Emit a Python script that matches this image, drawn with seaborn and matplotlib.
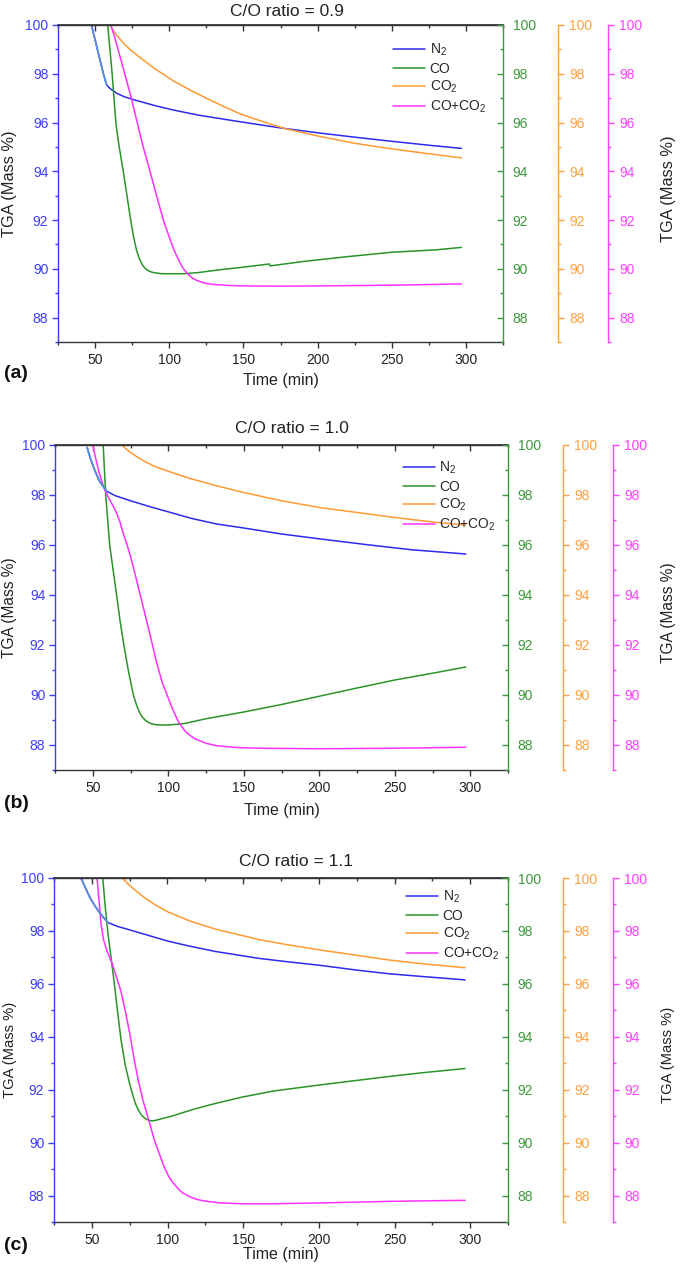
import pandas as pd
import matplotlib
matplotlib.use("Agg")
import matplotlib.pyplot as plt
from matplotlib.ticker import MultipleLocator
import seaborn as sns

gases = ["N$_2$", "CO", "CO$_2$", "CO+CO$_2$"]
titles = ["C/O ratio = 0.9", "C/O ratio = 1.0", "C/O ratio = 1.1"]
tags = ["(a)", "(b)", "(c)"]

# (a) C/O = 0.9
a_n2_t = [47.7, 50, 52.2, 55.5, 57.8, 60, 64.6, 70, 77, 90, 103, 120, 148, 175, 200, 225, 250, 275, 297]
a_n2 = [99.96, 99.4, 98.84, 98.02, 97.54, 97.4, 97.2, 97.05, 96.92, 96.7, 96.51, 96.3, 96.03, 95.78, 95.58, 95.4, 95.23, 95.07, 94.94]
a_co_t = [58.5, 60, 61.5, 63, 64, 66, 69, 71.5, 74, 76, 78, 80, 82, 84, 86, 88, 90, 95, 100, 110, 120, 135, 150, 167.5, 168, 190, 220, 250, 280, 297]
a_co = [100, 99.0, 98, 96.8, 96, 95.1, 94, 93, 92, 91.3, 90.75, 90.4, 90.15, 90.0, 89.92, 89.87, 89.84, 89.8, 89.8, 89.8, 89.85, 89.97, 90.07, 90.2, 90.12, 90.3, 90.5, 90.68, 90.78, 90.88]
a_co2_t = [60, 62, 65, 70, 75, 80, 90, 103, 115, 125, 137, 148, 165, 178, 200, 225, 250, 275, 297]
a_co2 = [100, 99.8, 99.55, 99.2, 98.92, 98.68, 98.22, 97.7, 97.3, 97.0, 96.65, 96.35, 96.0, 95.75, 95.45, 95.15, 94.92, 94.72, 94.55]
a_mix_t = [60.6, 63, 65, 70, 74, 78, 82, 87, 91, 96, 100, 103, 106, 109, 112, 115, 118, 122, 126, 130, 140, 150, 175, 200, 250, 297]
a_mix = [100, 99.55, 99.1, 98.0, 97.1, 96.1, 95.1, 94.0, 93.1, 92.0, 91.3, 90.8, 90.4, 90.05, 89.82, 89.65, 89.54, 89.45, 89.39, 89.36, 89.32, 89.3, 89.29, 89.3, 89.33, 89.38]

# (b) C/O = 1.0
b_n2_t = [46.3, 48.5, 50.6, 54.3, 59.2, 65, 75, 88, 101, 115, 132, 150, 175, 201, 232, 261, 297]
b_n2 = [99.9, 99.45, 99.1, 98.57, 98.15, 97.97, 97.77, 97.53, 97.31, 97.07, 96.84, 96.68, 96.44, 96.24, 96.01, 95.81, 95.64]
b_co_t = [56.9, 58.6, 61.2, 63.5, 65.8, 68, 70.6, 73.5, 76.9, 79, 81, 83, 85, 87, 89, 92, 96, 100, 110, 125, 150, 175, 200, 225, 250, 275, 297]
b_co = [100, 98, 96, 95, 94, 93, 92, 91, 90, 89.6, 89.3, 89.1, 88.98, 88.9, 88.85, 88.81, 88.8, 88.8, 88.85, 89.05, 89.32, 89.62, 89.95, 90.28, 90.6, 90.87, 91.12]
b_co2_t = [69.2, 72, 75, 80, 85, 92, 100, 115, 132, 150, 175, 200, 225, 250, 275, 297]
b_co2 = [100, 99.85, 99.7, 99.5, 99.32, 99.12, 98.95, 98.65, 98.37, 98.1, 97.77, 97.5, 97.3, 97.1, 96.92, 96.8]
b_mix_t = [50, 52, 54, 56, 58, 60, 62, 64, 66.3, 68, 70, 72.5, 75, 79, 83.5, 88, 92, 96, 100.7, 103, 105, 107, 109.3, 111.5, 114, 118, 125, 132, 145, 161, 200, 250, 297]
b_mix = [100, 99.45, 98.95, 98.55, 98.2, 97.95, 97.72, 97.5, 97.2, 96.92, 96.5, 96.05, 95.55, 94.6, 93.5, 92.4, 91.37, 90.5, 89.77, 89.42, 89.15, 88.9, 88.71, 88.53, 88.4, 88.24, 88.07, 87.97, 87.9, 87.87, 87.85, 87.87, 87.91]

# (c) C/O = 1.1
c_n2_t = [42.8, 46, 49.1, 52, 54.9, 57.8, 60.6, 67, 75, 88, 100.6, 115, 132, 160.7, 180, 200.7, 225, 246.5, 270, 296.6]
c_n2 = [100, 99.6, 99.22, 98.95, 98.71, 98.5, 98.32, 98.17, 98.04, 97.82, 97.61, 97.42, 97.22, 96.96, 96.83, 96.7, 96.52, 96.38, 96.27, 96.15]
c_co_t = [57.2, 58.8, 60.6, 62.8, 64.9, 67, 69.2, 72, 74.9, 77, 79, 81, 83, 85, 87.8, 90, 92, 96, 103.5, 110, 117.8, 133, 149.3, 170, 200.7, 225, 246.5, 270, 296.6]
c_co = [100, 98.95, 97.93, 96.95, 95.99, 94.95, 93.92, 92.95, 92.24, 91.8, 91.45, 91.2, 91.03, 90.92, 90.84, 90.82, 90.84, 90.9, 91.01, 91.13, 91.27, 91.5, 91.72, 91.95, 92.18, 92.35, 92.5, 92.65, 92.8]
c_co2_t = [70, 75, 80, 85, 92, 100.6, 115, 132.1, 160.7, 180, 200.7, 225, 246.5, 270, 296.6]
c_co2 = [100, 99.72, 99.47, 99.25, 98.98, 98.71, 98.37, 98.06, 97.67, 97.47, 97.28, 97.08, 96.9, 96.75, 96.61]
c_mix_t = [53.4, 54.2, 55, 56, 57.7, 60, 63.4, 66, 69.2, 72, 74.9, 77.5, 80.6, 84, 87.8, 91, 94.9, 98, 101, 103.5, 106, 108, 110, 112.1, 115, 118, 122, 126.4, 135, 149.3, 170, 200.7, 246.5, 296.6]
c_mix = [100, 99.5, 99.0, 98.3, 97.67, 97.25, 96.77, 96.3, 95.73, 95.0, 94.18, 93.3, 92.37, 91.55, 90.82, 90.15, 89.53, 89.05, 88.7, 88.49, 88.33, 88.2, 88.1, 88.04, 87.95, 87.88, 87.82, 87.78, 87.72, 87.69, 87.69, 87.72, 87.78, 87.82]

# start of N2 trace is drawn in a paler blue up to this time (min)
n2_pale_end = [57.8, 59.2, 60.6]


def make_frame(series):
    parts = [pd.DataFrame({"Time": t, "TGA": v, "Gas": g}) for g, (t, v) in zip(gases, series)]
    return pd.concat(parts, ignore_index=True)


panels = [
    make_frame([(a_n2_t, a_n2), (a_co_t, a_co), (a_co2_t, a_co2), (a_mix_t, a_mix)]),
    make_frame([(b_n2_t, b_n2), (b_co_t, b_co), (b_co2_t, b_co2), (b_mix_t, b_mix)]),
    make_frame([(c_n2_t, c_n2), (c_co_t, c_co), (c_co2_t, c_co2), (c_mix_t, c_mix)]),
]

sns.set_theme(style="ticks")
plt.rcParams["font.family"] = ["Liberation Sans", "DejaVu Sans"]
plt.rcParams["mathtext.default"] = "regular"

line_cols = ["#2b2bf0", "#2a942a", "#ff9a30", "#ff30ff"]
axis_cols = ["#3c3cff", "#3a9a3a", "#ffa040", "#ff40ff"]
pale_blue = "#5a8ed8"
dark = "#333333"
palette = dict(zip(gases, line_cols))

W, H = 685, 1265
boxes = [(58, 503, 25, 342), (55, 508, 445, 770), (54, 508, 878, 1222)]
title_xy = [(287, 11), (292, 428), (296, 862)]
xlabel_y = [381, 810, 1254]
tag_y = [373, 803, 1246]
ylab_size = [11.8, 11.2, 10.6]
legend_anchor = [(0.975, 0.965), (0.985, 0.972), (0.993, 0.985)]

fig = plt.figure(figsize=(W / 100, H / 100), dpi=100)

for i, df in enumerate(panels):
    l, r, t, b = boxes[i]
    wpx = r - l
    ax = fig.add_axes([l / W, 1 - b / H, wpx / W, (b - t) / H])
    sns.lineplot(data=df, x="Time", y="TGA", hue="Gas", palette=palette,
                 estimator=None, sort=False, linewidth=1.1, ax=ax)
    pale = df[(df["Gas"] == gases[0]) & (df["Time"] <= n2_pale_end[i])]
    sns.lineplot(data=pale, x="Time", y="TGA", color=pale_blue, estimator=None,
                 sort=False, linewidth=1.3, legend=False, ax=ax)

    ax.set_xlim(25, 325)
    ax.set_ylim(87, 100)
    ax.xaxis.set_major_locator(MultipleLocator(50))
    ax.xaxis.set_minor_locator(MultipleLocator(25))
    ax.yaxis.set_major_locator(MultipleLocator(2))
    ax.yaxis.set_minor_locator(MultipleLocator(1))
    ax.set_xlabel("")
    ax.set_ylabel("")

    ax.spines["right"].set_visible(False)
    ax.spines["left"].set_color(axis_cols[0])
    for s in ["top", "bottom"]:
        ax.spines[s].set_color(dark)
    for s in ax.spines.values():
        s.set_linewidth(1.0)
    ax.tick_params(axis="x", which="both", direction="out", bottom=True, top=False,
                   colors=dark, labelcolor="#222222", labelsize=10, pad=4)
    ax.tick_params(axis="y", which="both", direction="out", left=True, right=False,
                   colors=axis_cols[0], labelsize=10, pad=3)
    ax.tick_params(which="major", length=4, width=1.0)
    ax.tick_params(which="minor", length=2.5, width=1.0)

    top = ax.secondary_xaxis("top")
    top.xaxis.set_major_locator(MultipleLocator(50))
    top.xaxis.set_minor_locator(MultipleLocator(25))
    top.tick_params(which="both", direction="in", labeltop=False, colors=dark, width=1.0)
    top.tick_params(which="major", length=4)
    top.tick_params(which="minor", length=2.5)
    top.spines["top"].set_color(dark)

    for col, off, direc, pad in [(axis_cols[1], 0, "in", 7), (axis_cols[2], 55, "out", 4),
                                 (axis_cols[3], 105, "out", 4)]:
        tw = ax.twinx()
        tw.set_ylim(87, 100)
        tw.yaxis.set_major_locator(MultipleLocator(2))
        tw.yaxis.set_minor_locator(MultipleLocator(1))
        for s in ["left", "top", "bottom"]:
            tw.spines[s].set_visible(False)
        tw.spines["right"].set_position(("axes", 1 + off / wpx))
        tw.spines["right"].set_color(col)
        tw.spines["right"].set_linewidth(1.0)
        tw.tick_params(axis="y", which="both", colors=col, direction=direc, pad=pad,
                       labelsize=10, width=1.0)
        tw.tick_params(which="major", length=4)
        tw.tick_params(which="minor", length=2.5)

    sns.move_legend(ax, "upper right", bbox_to_anchor=legend_anchor[i], frameon=False,
                    title=None, fontsize=10, handlelength=2.3, handletextpad=0.3,
                    labelspacing=0.25, borderaxespad=0)

    fig.text(title_xy[i][0] / W, 1 - title_xy[i][1] / H, titles[i], ha="center",
             va="center", fontsize=12.5, color="#222222")
    fig.text((l + r) / 2 / W, 1 - xlabel_y[i] / H, "Time (min)", ha="center",
             va="center", fontsize=11.5, color="#222222")
    fig.text(4 / W, 1 - tag_y[i] / H, tags[i], ha="left", va="center",
             fontsize=14, fontweight="bold", color="#111111")
    yc = (t + b) / 2
    fig.text(10 / W, 1 - yc / H, "TGA (Mass %)", rotation=90, ha="center",
             va="center", fontsize=ylab_size[i], color="#222222")
    fig.text(668 / W, 1 - (yc + 5) / H, "TGA (Mass %)", rotation=90, ha="center",
             va="center", fontsize=ylab_size[i], color="#222222")

fig.savefig("out.png", dpi=100)
